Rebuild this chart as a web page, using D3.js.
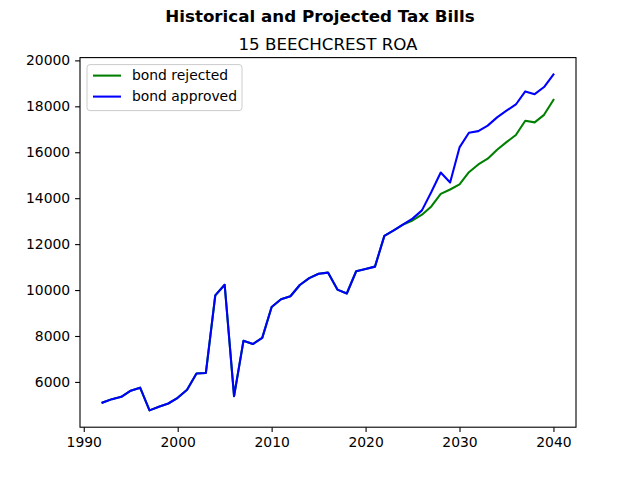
<!DOCTYPE html>
<html>
<head>
<meta charset="utf-8">
<script src="https://cdn.jsdelivr.net/npm/d3@7"></script>
<style>
  body { margin: 0; background: #fff; }
  svg { font-family: "DejaVu Sans", sans-serif; }
</style>
</head>
<body>
<div id="chart"></div>
<script>
// Tax bill data
const years = d3.range(1992, 2041);

const history = [
    5100, 5250, 5350, 5620, 5750, 4760, 4920, 5060, 5310, 5660,
    6370, 6390, 9770, 10230, 5380, 7790, 7650, 7920, 9260, 9600,
    9730, 10220, 10520, 10710, 10760, 10020, 9850, 10820, 10920, 11020,
    12360, 12600
];

const rejected = history.concat([
    12850, 13030, 13280, 13640, 14190, 14380, 14600, 15130, 15470, 15720,
    16110, 16440, 16750, 17370, 17300, 17630, 18280
]);

const approved = history.concat([
    12860, 13110, 13470, 14270, 15120, 14680, 16210, 16850, 16920, 17160,
    17520, 17810, 18080, 18650, 18530, 18840, 19390
]);

const xTicks = [1990, 2000, 2010, 2020, 2030, 2040];
const yTicks = [6000, 8000, 10000, 12000, 14000, 16000, 18000, 20000];

const series = [
    { name: 'bond rejected', color: '#008000', values: rejected },
    { name: 'bond approved', color: '#0000ff', values: approved }
];

const width = 640, height = 480;
const margin = { left: 80, right: 64, top: 57.6, bottom: 52.8 };
const plotW = width - margin.left - margin.right;
const plotH = height - margin.top - margin.bottom;

const svg = d3.select('#chart').append('svg')
    .attr('width', width)
    .attr('height', height);

// matplotlib style 5% padding
const xExt = d3.extent(years);
const xPad = (xExt[1] - xExt[0]) * 0.05;
const allVals = rejected.concat(approved);
const yExt = d3.extent(allVals);
const yPad = (yExt[1] - yExt[0]) * 0.05;

const x = d3.scaleLinear()
    .domain([xExt[0] - xPad, xExt[1] + xPad])
    .range([margin.left, margin.left + plotW]);

const y = d3.scaleLinear()
    .domain([yExt[0] - yPad, yExt[1] + yPad])
    .range([margin.top + plotH, margin.top]);

// Titles
svg.append('text')
    .attr('x', width / 2)
    .attr('y', 22)
    .attr('text-anchor', 'middle')
    .attr('font-size', '16.7px')
    .attr('font-weight', 'bold')
    .text('Historical and Projected Tax Bills');

svg.append('text')
    .attr('x', margin.left + plotW / 2)
    .attr('y', 49.5)
    .attr('text-anchor', 'middle')
    .attr('font-size', '16.7px')
    .text('15 BEECHCREST ROA');

// Axes
const xAxis = d3.axisBottom(x)
    .tickValues(xTicks)
    .tickFormat(d3.format('d'))
    .tickSizeInner(4.9)
    .tickSizeOuter(0)
    .tickPadding(4.9);

const yAxis = d3.axisLeft(y)
    .tickValues(yTicks)
    .tickFormat(d3.format('d'))
    .tickSizeInner(4.9)
    .tickSizeOuter(0)
    .tickPadding(4.9);

const gx = svg.append('g')
    .attr('transform', `translate(0, ${margin.top + plotH})`)
    .call(xAxis);

const gy = svg.append('g')
    .attr('transform', `translate(${margin.left}, 0)`)
    .call(yAxis);

[gx, gy].forEach(g => {
    g.select('.domain').remove();
    g.selectAll('.tick line').attr('stroke', '#000').attr('stroke-width', 1.1);
    g.selectAll('.tick text')
        .attr('font-size', '13.9px')
        .attr('font-family', '"DejaVu Sans", sans-serif')
        .attr('fill', '#000');
});

// Lines
const line = d3.line()
    .x((d, i) => x(years[i]))
    .y(d => y(d));

const plot = svg.append('g');

series.forEach(s => {
    plot.append('path')
        .datum(s.values)
        .attr('fill', 'none')
        .attr('stroke', s.color)
        .attr('stroke-width', 2.08)
        .attr('stroke-linejoin', 'round')
        .attr('stroke-linecap', 'square')
        .attr('d', line);
});

// Axes frame
svg.append('rect')
    .attr('x', margin.left)
    .attr('y', margin.top)
    .attr('width', plotW)
    .attr('height', plotH)
    .attr('fill', 'none')
    .attr('stroke', '#000')
    .attr('stroke-width', 1.1);

// Legend
const legend = svg.append('g')
    .attr('transform', `translate(${margin.left + 7}, ${margin.top + 7})`);

legend.append('rect')
    .attr('width', 155)
    .attr('height', 46)
    .attr('rx', 3)
    .attr('fill', '#fff')
    .attr('fill-opacity', 0.8)
    .attr('stroke', '#cccccc')
    .attr('stroke-width', 1);

series.forEach((s, i) => {
    const ly = 11 + i * 21;
    legend.append('line')
        .attr('x1', 6)
        .attr('x2', 34)
        .attr('y1', ly)
        .attr('y2', ly)
        .attr('stroke', s.color)
        .attr('stroke-width', 2.08);
    legend.append('text')
        .attr('x', 45)
        .attr('y', ly)
        .attr('dy', '0.35em')
        .attr('font-size', '13.9px')
        .text(s.name);
});
</script>
</body>
</html>
